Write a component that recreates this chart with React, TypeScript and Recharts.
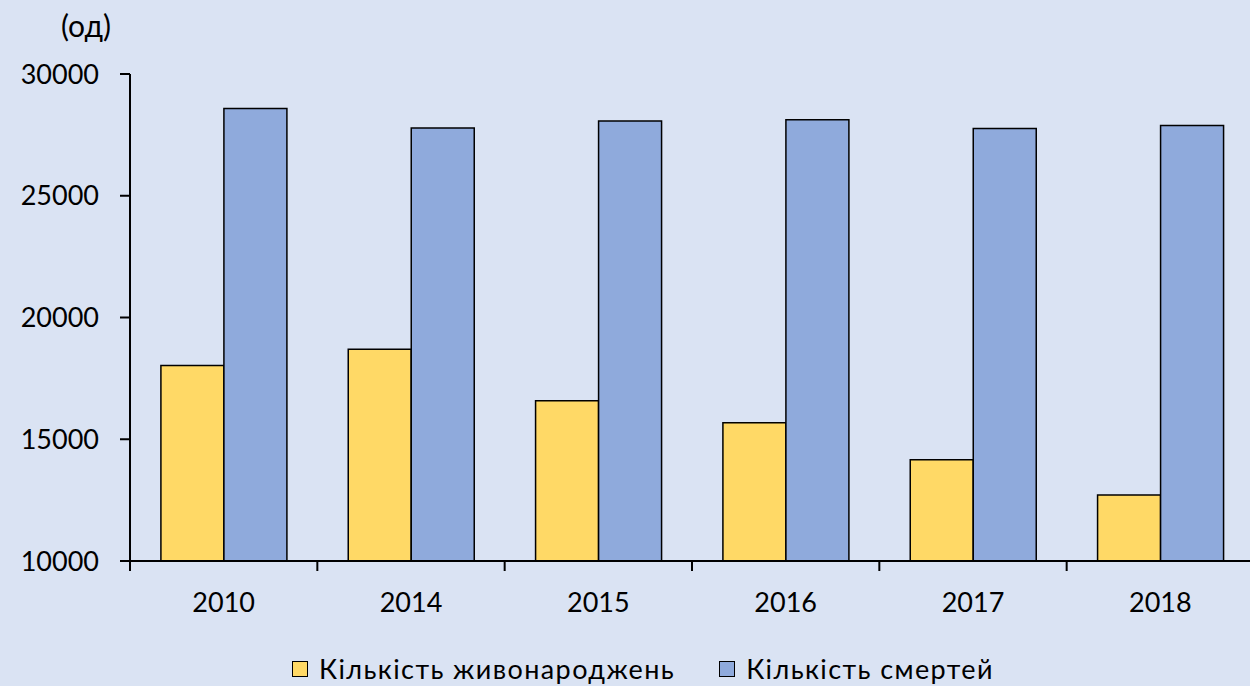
import React from "react"
import { Bar, BarChart, Legend, XAxis, YAxis } from "recharts"

const years = ["2010", "2014", "2015", "2016", "2017", "2018"]
const births = [18030, 18700, 16580, 15680, 14160, 12710]
const deaths = [28580, 27780, 28070, 28120, 27760, 27880]
const yTicks = [10000, 15000, 20000, 25000, 30000]

const seriesNames = {
  births: "Кількість живонароджень",
  deaths: "Кількість смертей",
}
const colors = {
  births: "#FFD966",
  deaths: "#8FAADC",
  bg: "#DAE3F3",
}

const data = years.map((year, i) => ({
  year,
  births: births[i],
  deaths: deaths[i],
}))

const FONT = "Lato, 'Noto Sans', sans-serif"
const X_TICK_MARGIN = 0

// category label in the middle, tick mark on the left boundary (Excel style)
function YearTick(props: any) {
  const { x, y, payload, width, visibleTicksCount } = props
  const half = width / visibleTicksCount / 2
  const axisY = y - X_TICK_MARGIN
  return (
    <g>
      <line x1={x - half} x2={x - half} y1={axisY} y2={axisY + 10} stroke="#000" strokeWidth={2} />
      <text x={x} y={axisY + 51} textAnchor="middle" fontSize={27} fontFamily={FONT} fill="#000">
        {payload.value}
      </text>
    </g>
  )
}

function LegendContent() {
  const items = [
    { key: "births", label: seriesNames.births, color: colors.births },
    { key: "deaths", label: seriesNames.deaths, color: colors.deaths },
  ]
  return (
    <div style={{ display: "flex", gap: 44, fontFamily: FONT, fontSize: 27, letterSpacing: 1.4, color: "#000", lineHeight: 1 }}>
      {items.map((it) => (
        <div key={it.key} style={{ display: "flex", alignItems: "center" }}>
          <span
            style={{
              display: "inline-block",
              width: 14,
              height: 14,
              background: it.color,
              border: "1.5px solid #000",
              marginRight: 11,
            }}
          />
          <span>{it.label}</span>
        </div>
      ))}
    </div>
  )
}

export default function App() {
  return (
    <div style={{ position: "absolute", left: 0, top: 0, width: 1250, height: 686, overflow: "hidden", background: colors.bg }}>
      <BarChart
        width={1262}
        height={686}
        data={data}
        margin={{ top: 74, right: 8, left: 0, bottom: 0 }}
        barCategoryGap="16.5%"
        barGap={0}
      >
        <XAxis
          dataKey="year"
          height={125}
          axisLine={{ stroke: "#000", strokeWidth: 2 }}
          tickLine={false}
          tickSize={0}
          tickMargin={X_TICK_MARGIN}
          tick={<YearTick />}
          interval={0}
        />
        <YAxis
          width={130}
          domain={[10000, 30000]}
          ticks={yTicks}
          allowDataOverflow
          axisLine={{ stroke: "#000", strokeWidth: 2 }}
          tickLine={{ stroke: "#000", strokeWidth: 2 }}
          tickSize={10}
          tickMargin={21}
          tick={{ fill: "#000", fontSize: 27, fontFamily: FONT }}
          label={{
            content: ({ viewBox }: any) => (
              <text x={viewBox.x + 86} y={viewBox.y - 37} textAnchor="middle" fontSize={30} fontFamily={FONT} fill="#000">
                (од)
              </text>
            ),
          }}
        />
        <Legend
          verticalAlign="middle"
          align="center"
          layout="horizontal"
          content={<LegendContent />}
          wrapperStyle={{ top: 655, left: 292, width: "auto" }}
        />
        <Bar dataKey="births" name={seriesNames.births} fill={colors.births} stroke="#000" strokeWidth={1.5} isAnimationActive={false} />
        <Bar dataKey="deaths" name={seriesNames.deaths} fill={colors.deaths} stroke="#000" strokeWidth={1.5} isAnimationActive={false} />
      </BarChart>
    </div>
  )
}
